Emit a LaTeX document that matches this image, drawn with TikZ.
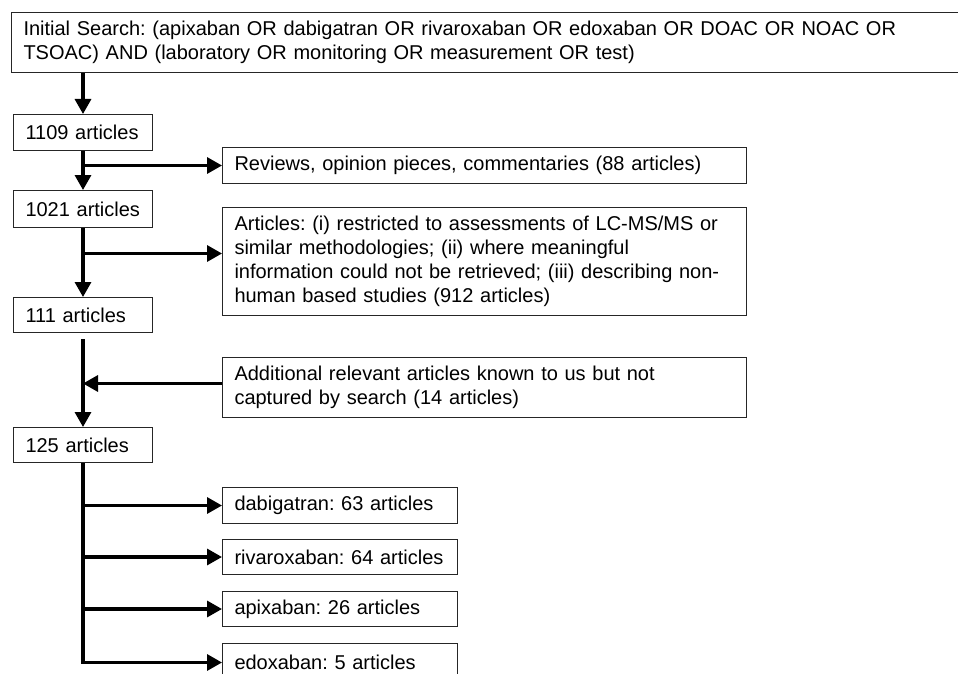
\documentclass[tikz,border=0pt]{standalone}
\usepackage{fontspec}
\setmainfont{Liberation Sans}
\usetikzlibrary{arrows.meta,calc}
\frenchspacing
\begin{document}
\begin{tikzpicture}[x=1pt,y=-1pt,
  box/.style={draw=black!85,line width=1pt,rectangle,anchor=north west,inner xsep=12pt,inner ysep=0pt,align=left,font=\fontsize{20}{24}\selectfont},
  conn/.style={line width=3.3pt},
  arr/.style={conn,-{Triangle[length=15pt,width=16pt]}}]
\useasboundingbox[fill=white] (0,0) rectangle (958,674);

\node[box,text width=936pt,minimum height=60pt] (top) at (11,12)
  {Initial Search: (apixaban OR dabigatran OR rivaroxaban OR edoxaban OR DOAC OR NOAC OR\\TSOAC) AND (laboratory OR monitoring OR measurement OR test)};

\node[box,text width=115pt,minimum height=36pt] (n1109) at (13,114) {1109 articles};
\node[box,text width=115pt,minimum height=37pt] (n1021) at (13,190) {1021 articles};
\node[box,text width=115pt,minimum height=35pt] (n111) at (13,297) {111 articles};
\node[box,text width=115pt,minimum height=35pt] (n125) at (13,427) {125 articles};

\node[box,text width=500pt,minimum height=36pt] (rev) at (222,147)
  {Reviews, opinion pieces, commentaries (88 articles)};
\node[box,text width=500pt,minimum height=108pt] (art) at (222,207)
  {Articles: (i) restricted to assessments of LC-MS/MS or\\similar methodologies; (ii) where meaningful\\information could not be retrieved; (iii) describing non-\\human based studies (912 articles)};
\node[box,text width=500pt,minimum height=60pt] (add) at (222,357)
  {Additional relevant articles known to us but not\\captured by search (14 articles)};

\node[box,text width=211pt,minimum height=36pt] (dab) at (222,487) {dabigatran: 63 articles};
\node[box,text width=211pt,minimum height=35pt] (riv) at (222,539) {rivaroxaban: 64 articles};
\node[box,text width=211pt,minimum height=35pt] (api) at (222,591) {apixaban: 26 articles};
\node[box,text width=211pt,minimum height=38pt] (edo) at (222,643) {edoxaban: 5 articles};

\draw[arr] (top.south -| n1109.north) -- (n1109.north);
\draw[arr] (n1109.south) -- (n1021.north);
\draw[arr] (n1109.south |- rev.west) -- (rev.west);
\draw[arr] (n1021.south) -- (n111.north);
\coordinate (artin) at ([yshift=8pt]art.west);
\draw[arr] (n1021.south |- artin) -- (artin);
\draw[arr,shorten <=6pt] (n111.south) -- (n125.north);
\coordinate (addout) at ([yshift=4pt]add.west);
\draw[arr] (addout) -- (n111.south |- addout);
\draw[arr] (n125.south) -- (n125.south |- edo.west) -- (edo.west);
\foreach \b in {dab,riv,api}{
  \draw[arr] (n125.south |- \b.west) -- (\b.west);
}
\end{tikzpicture}
\end{document}
